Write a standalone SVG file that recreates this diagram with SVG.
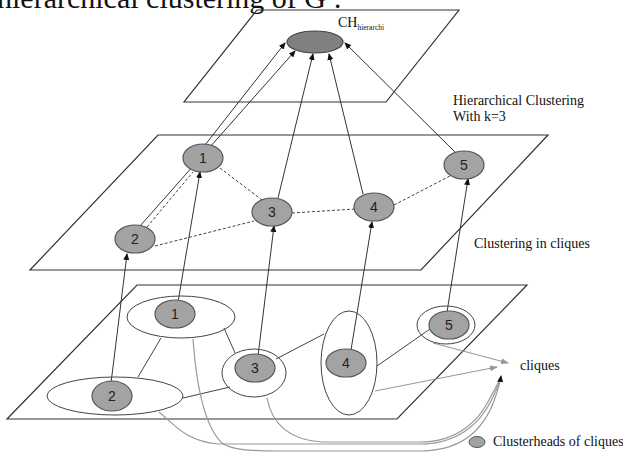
<svg xmlns="http://www.w3.org/2000/svg" width="623" height="452" viewBox="0 0 623 452">
<style>
.plane{fill:none;stroke:#333;stroke-width:1.2}
.head{fill:#a3a3a3;stroke:#555;stroke-width:1.2}
.clique{fill:none;stroke:#444;stroke-width:1}
.num{font-family:"Liberation Sans",Arial,sans-serif;font-size:14px;fill:#222;text-anchor:middle}
.lbl{font-family:"Liberation Serif","Times New Roman",serif;font-size:14px;fill:#111}
.up{fill:none;stroke:#333;stroke-width:1}
.dash{fill:none;stroke:#444;stroke-width:1;stroke-dasharray:3,2}
.link{fill:none;stroke:#444;stroke-width:1}
.gray{fill:none;stroke:#999;stroke-width:1.2}
</style>
<defs>
<marker id="ah" markerWidth="7" markerHeight="6" refX="6" refY="3" orient="auto" markerUnits="userSpaceOnUse"><path d="M0,0 L7,3 L0,6 z" fill="#111"/></marker>
<marker id="ag" markerWidth="8" markerHeight="6" refX="7" refY="3" orient="auto" markerUnits="userSpaceOnUse"><path d="M0,0 L8,3 L0,6 z" fill="#999"/></marker>
</defs>
<rect width="623" height="452" fill="#fff"/>
<text x="-3" y="8" font-family="Liberation Serif, serif" font-size="30" fill="#111">hierarchical clustering of G :</text>
<g id="planes">
<polygon class="plane" points="257,10 459,10 386,102 184,102"/>
<polygon class="plane" points="158,135 548,135 421,270 30,270"/>
<polygon class="plane" points="137,285 527,285 397,419 7,419"/>
</g>
<g id="connectors">
<line class="up" x1="205" y1="145" x2="285" y2="43" marker-end="url(#ah)"/>
<line class="up" x1="140" y1="226" x2="295" y2="51" marker-end="url(#ah)"/>
<line class="up" x1="278" y1="198" x2="313" y2="54" marker-end="url(#ah)"/>
<line class="up" x1="363" y1="194" x2="329" y2="54" marker-end="url(#ah)"/>
<line class="up" x1="455" y1="152" x2="345" y2="43" marker-end="url(#ah)"/>
<line class="dash" x1="147" y1="227" x2="193" y2="172"/>
<line class="dash" x1="220" y1="168" x2="262" y2="200"/>
<line class="dash" x1="155" y1="246" x2="254" y2="221"/>
<line class="dash" x1="292" y1="213" x2="355" y2="209"/>
<line class="dash" x1="394" y1="205" x2="450" y2="176"/>
<line class="up" x1="111" y1="383" x2="127" y2="254" marker-end="url(#ah)"/>
<line class="up" x1="178" y1="302" x2="200" y2="172" marker-end="url(#ah)"/>
<line class="up" x1="258" y1="356" x2="274" y2="226" marker-end="url(#ah)"/>
<line class="up" x1="351" y1="350" x2="372" y2="222" marker-end="url(#ah)"/>
<line class="up" x1="447" y1="312" x2="468" y2="179" marker-end="url(#ah)"/>
<line class="link" x1="161" y1="338" x2="138" y2="377"/>
<line class="link" x1="224" y1="328" x2="235" y2="353"/>
<line class="link" x1="183" y1="398" x2="230" y2="387"/>
<line class="link" x1="276" y1="359" x2="324" y2="334"/>
<line class="link" x1="377" y1="366" x2="430" y2="329"/>
<line class="gray" x1="433" y1="343" x2="508" y2="363" marker-end="url(#ag)"/>
<line class="gray" x1="375" y1="391" x2="497" y2="367" marker-end="url(#ag)"/>
<path class="gray" d="M159,412 C176,426 186,441 218,444 L420,444 C460,444 481,421 491,401 C496,391 499,384 501,377"/>
<path class="gray" d="M267,398 C272,424 290,440 322,442 L420,442 C458,442 479,420 489,400 C495,389 498,383 501,377"/>
<path class="gray" d="M193,339 C196,380 203,425 222,443 C232,450 250,451 280,451 L420,451 C465,451 485,425 494,401 C498,390 500,383 501,376" marker-end="url(#ah)"/>
</g>
<g id="ch">
<ellipse cx="315" cy="42" rx="28" ry="11" fill="#808080" stroke="#444" stroke-width="1.2"/>
<text class="lbl" x="338" y="27" font-size="11">CH<tspan font-size="7.5" dy="3">hierarchi</tspan></text>
</g>
<g id="m1"><ellipse class="head" cx="203" cy="158" rx="20" ry="14"/><text class="num" x="203" y="163">1</text></g>
<g id="m2"><ellipse class="head" cx="135" cy="239" rx="20" ry="14"/><text class="num" x="135" y="244">2</text></g>
<g id="m3"><ellipse class="head" cx="272" cy="212" rx="20" ry="14"/><text class="num" x="272" y="217">3</text></g>
<g id="m4"><ellipse class="head" cx="374" cy="207" rx="20" ry="14"/><text class="num" x="374" y="212">4</text></g>
<g id="m5"><ellipse class="head" cx="464" cy="165" rx="20" ry="14"/><text class="num" x="464" y="170">5</text></g>
<g id="c1"><ellipse class="clique" cx="181" cy="317" rx="54" ry="21"/><ellipse class="head" cx="175" cy="314" rx="20" ry="14"/><text class="num" x="175" y="319">1</text></g>
<g id="c2"><ellipse class="clique" cx="115" cy="396" rx="68" ry="19"/><ellipse class="head" cx="112" cy="396" rx="20" ry="15"/><text class="num" x="112" y="401">2</text></g>
<g id="c3"><ellipse class="clique" cx="254" cy="373" rx="32" ry="24"/><ellipse class="head" cx="255" cy="368" rx="20" ry="14"/><text class="num" x="255" y="373">3</text></g>
<g id="c4"><ellipse class="clique" cx="349" cy="363" rx="28" ry="52"/><ellipse class="head" cx="346" cy="363" rx="20" ry="14"/><text class="num" x="346" y="368">4</text></g>
<g id="c5"><ellipse class="clique" cx="446" cy="325" rx="29" ry="19"/><ellipse class="head" cx="449" cy="325" rx="20" ry="14"/><text class="num" x="449" y="330">5</text></g>
<g id="labels">
<text class="lbl" x="453" y="105">Hierarchical Clustering</text>
<text class="lbl" x="453" y="121">With k=3</text>
<text class="lbl" x="474" y="248">Clustering in cliques</text>
<text class="lbl" x="520" y="370">cliques</text>
<ellipse cx="477" cy="442" rx="8" ry="5.5" fill="#a3a3a3" stroke="#555" stroke-width="1"/>
<text class="lbl" x="493" y="446">Clusterheads of cliques</text>
</g>
</svg>
